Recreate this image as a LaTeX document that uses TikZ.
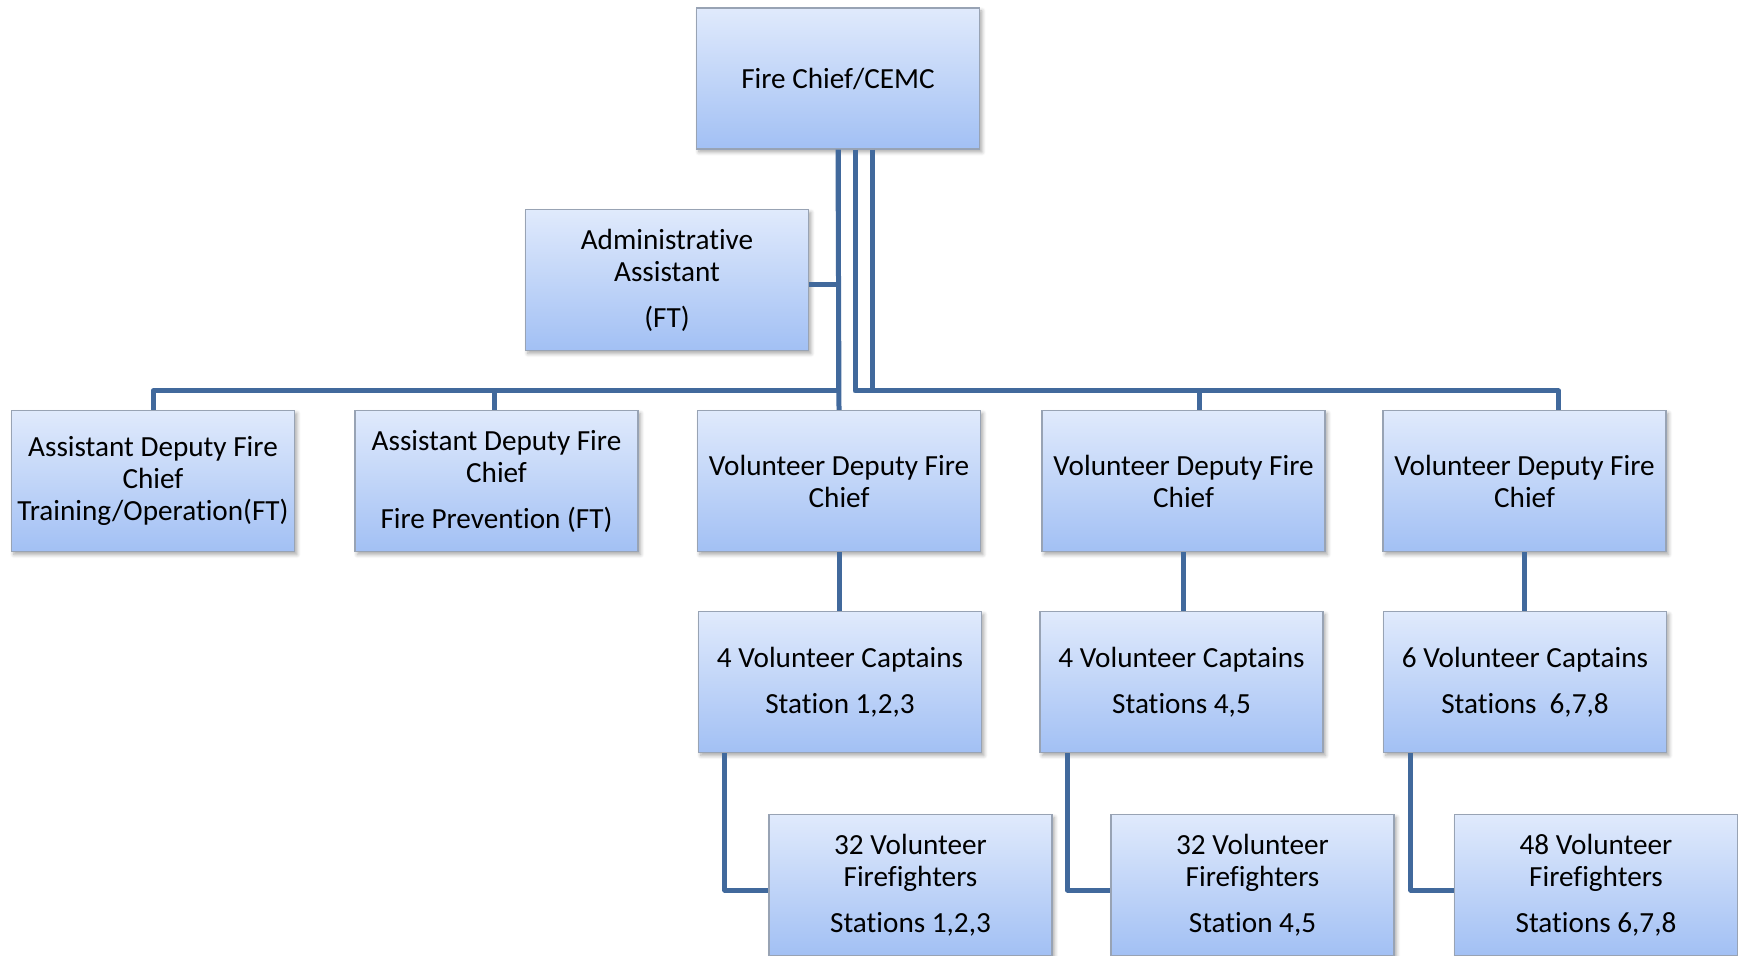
\documentclass[tikz,border=0pt]{standalone}
\usepackage{fontspec}
\setmainfont[Ligatures={NoCommon}]{Carlito}
\usepackage{xcolor}
\usetikzlibrary{shadows.blur}
\definecolor{boxtop}{HTML}{E0EAFC}
\definecolor{boxbottom}{HTML}{A2C0F4}
\definecolor{boxedge}{HTML}{98A3B4}
\definecolor{linkblue}{HTML}{41699C}

\begin{document}
\begin{tikzpicture}[x=0.5pt, y=-0.5pt,
          box/.style={rectangle, draw=boxedge, line width=0.6pt,
                      top color=boxtop, bottom color=boxbottom,
                      minimum width=141.5pt, minimum height=70.5pt, inner sep=1pt,
                      align=center, font=\fontsize{14.6}{16}\selectfont,
                      blur shadow={shadow xshift=1.2pt, shadow yshift=-1.5pt,
                                   shadow blur steps=6, shadow opacity=35}},
          link/.style={line width=2.5pt, linkblue, line join=round}
        ]
        \useasboundingbox (0,0) rectangle (1738,956);

        \node[box] (chief) at (838, 78.5) {Fire Chief/CEMC};
        \node[box] (admin) at (667, 280)  {Administrative\\Assistant\\[7pt](FT)};

        \coordinate (bus) at (838, 391);

        \node[box] (adf1) at (153, 481)    {Assistant Deputy Fire\\Chief\\Training/Operation(FT)};
        \node[box] (adf2) at (496.5, 481)  {Assistant Deputy Fire\\Chief\\[7pt]Fire Prevention (FT)};
        \node[box] (vdc1) at (839, 481)    {Volunteer Deputy Fire\\Chief};
        \node[box] (vdc2) at (1183.5, 481) {Volunteer Deputy Fire\\Chief};
        \node[box] (vdc3) at (1524.5, 481) {Volunteer Deputy Fire\\Chief};

        \node[box] (cap1) at (840, 682)    {4 Volunteer Captains\\[7pt]Station 1,2,3};
        \node[box] (cap2) at (1181.5, 682) {4 Volunteer Captains\\[7pt]Stations 4,5};
        \node[box] (cap3) at (1525, 682)   {6 Volunteer Captains\\[7pt]Stations\ \ 6,7,8};

        \node[box] (ff1) at (910.5, 885)  {32 Volunteer\\Firefighters\\[7pt]Stations 1,2,3};
        \node[box] (ff2) at (1252.5, 885) {32 Volunteer\\Firefighters\\[7pt]Station 4,5};
        \node[box] (ff3) at (1596, 885)   {48 Volunteer\\Firefighters\\[7pt]Stations 6,7,8};

        % chief to staff
        \draw[link] (chief.south) |- ([yshift=-2.5pt]admin.east);
        \draw[link] (chief.south) -- (vdc1.north);
        \draw[link] (chief.south) -- (chief.south |- bus) -| (adf1.north);
        \draw[link] (chief.south |- bus) -| ([xshift=-1.2pt]adf2.north);
        \draw[link] ([xshift=8.5pt]chief.south) -- ([xshift=8.5pt]chief.south |- bus)
                    -| ([xshift=8pt]vdc2.north);
        \draw[link] ([xshift=17pt]chief.south) -- ([xshift=17pt]chief.south |- bus)
                    -| ([xshift=17pt]vdc3.north);

        % deputies to captains
        \draw[link] (vdc1.south) -- (cap1.north -| vdc1.south);
        \draw[link] (vdc2.south) -- (cap2.north -| vdc2.south);
        \draw[link] (vdc3.south) -- (cap3.north -| vdc3.south);

        % captains to firefighters
        \draw[link] ([xshift=13.5pt]cap1.south west) |- ([yshift=-2.5pt]ff1.west);
        \draw[link] ([xshift=14pt]cap2.south west) |- ([yshift=-2.5pt]ff2.west);
        \draw[link] ([xshift=14pt]cap3.south west) |- ([yshift=-2.5pt]ff3.west);
      \end{tikzpicture}
\end{document}
